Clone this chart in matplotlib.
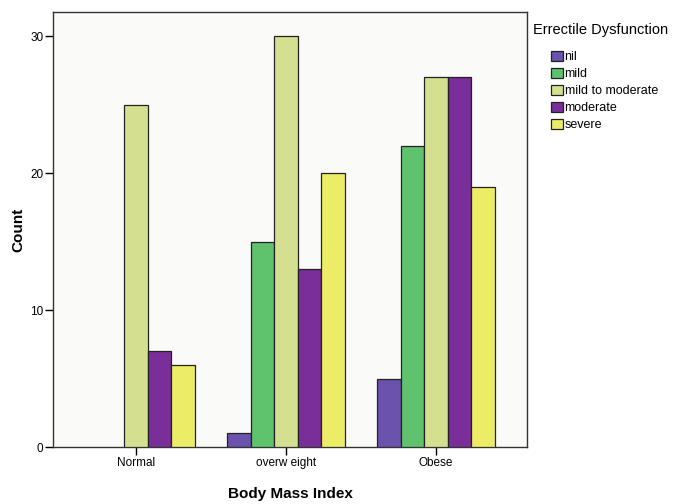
import numpy as np
import matplotlib.pyplot as plt

plt.rcParams['font.family'] = ['Liberation Sans', 'DejaVu Sans']

# data
bmi_groups = ['Normal', 'overw eight', 'Obese']
ed_levels = ['nil', 'mild', 'mild to moderate', 'moderate', 'severe']
nil = [0, 1, 5]
mild = [0, 15, 22]
mild_to_moderate = [25, 30, 27]
moderate = [7, 13, 27]
severe = [6, 20, 19]
colors = ['#6a52ad', '#5fc26c', '#d4e08f', '#7a2e9a', '#ecec66']

series = [nil, mild, mild_to_moderate, moderate, severe]

fig = plt.figure(figsize=(6.75, 5.04), dpi=100)
ax = fig.add_axes([0.0785, 0.113, 0.7025, 0.863])
ax.set_facecolor('#fafaf8')

x = np.arange(len(bmi_groups))
w = 0.157
for i, (vals, lab, c) in enumerate(zip(series, ed_levels, colors)):
    vals = np.array(vals, dtype=float)
    vals[vals == 0] = np.nan  # empty cells are not drawn
    ax.bar(x + (i - 2) * w, vals, width=w, color=c, edgecolor='#222222',
           linewidth=0.9, label=lab, zorder=3)

ax.set_xlim(-0.553, 2.607)
ax.set_ylim(0, 31.75)
ax.set_yticks([0, 10, 20, 30])
ax.set_xticks(x)
ax.set_xticklabels(bmi_groups)
ax.tick_params(axis='both', labelsize=8.5, length=5.5, width=1, direction='out', pad=1.5)
for s in ax.spines.values():
    s.set_linewidth(1)
    s.set_color('#333333')

ax.set_ylabel('Count', fontsize=11, fontweight='bold', labelpad=3)
ax.set_xlabel('Body Mass Index', fontsize=11, fontweight='bold', labelpad=13)

# legend title sits left of the indented entries
fig.text(0.79, 0.9405, 'Errectile Dysfunction', fontsize=10.5, va='center', ha='left')
leg = fig.legend(loc='upper left', bbox_to_anchor=(0.816, 0.899), frameon=False,
                 fontsize=9, handlelength=0.95, handleheight=0.85,
                 handletextpad=0.15, labelspacing=0.37, borderpad=0,
                 borderaxespad=0)

fig.savefig('out.png', dpi=100)
